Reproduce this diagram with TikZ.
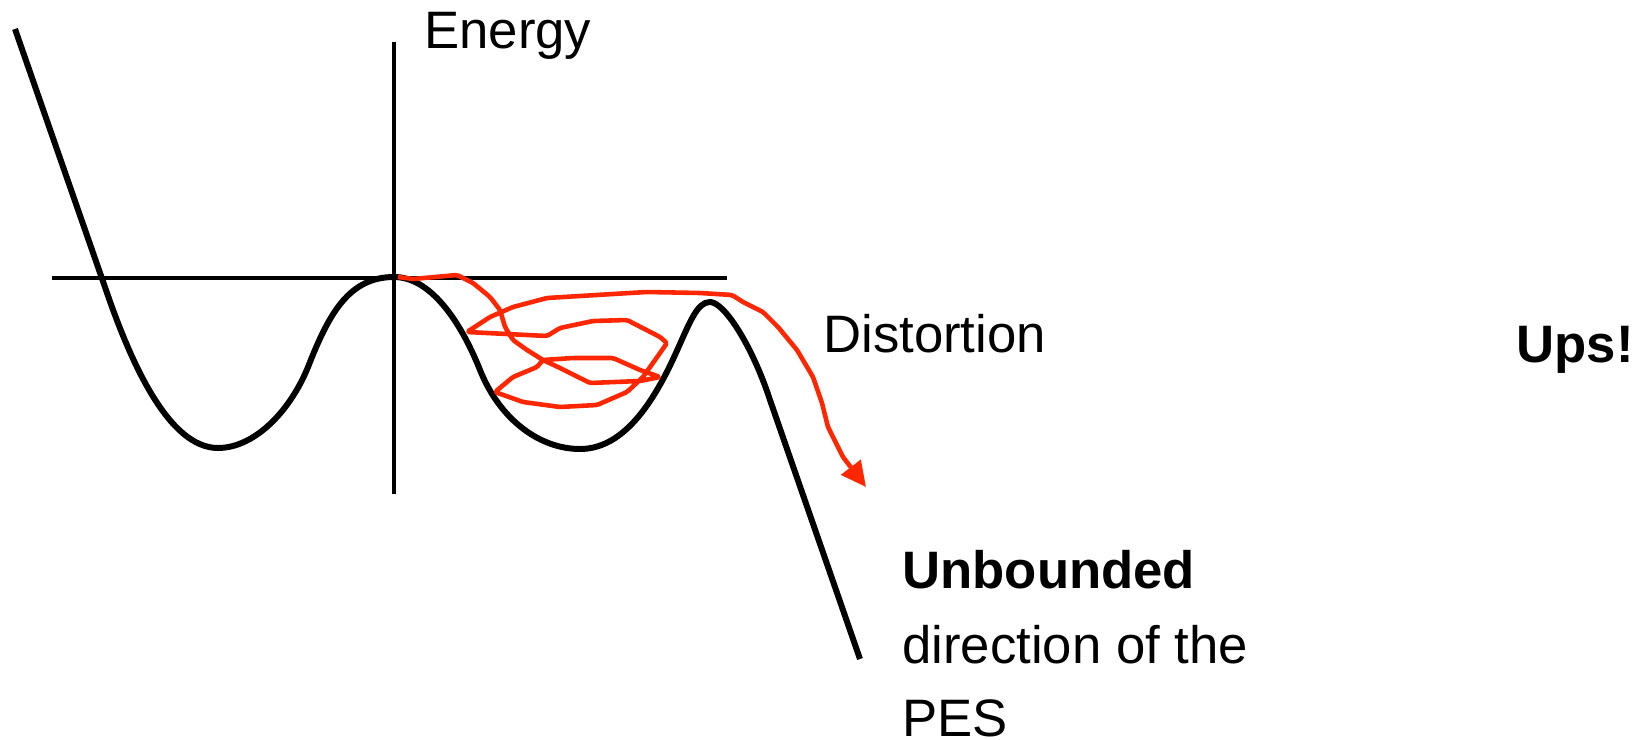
\documentclass[tikz,border=0pt]{standalone}
\usepackage{fontspec}
\setmainfont{Liberation Sans}
\usetikzlibrary{arrows.meta}
\definecolor{pathred}{RGB}{255,38,0}
\tikzset{
  axisline/.style={line width=2.2pt},
  pesline/.style={line width=3.4pt, line join=round},
  walk/.style={pathred, line width=2.6pt, line join=round, rounded corners=1pt},
  label/.style={font=\fontsize{30}{42.7}\selectfont, inner sep=0pt},
}
\begin{document}
\begin{tikzpicture}[x=0.02cm, y=-0.02cm]
  \useasboundingbox (0,0) rectangle (1640,740);

  % axes
  \draw[axisline] (52,278) -- (727,278);
  \draw[axisline] (394,42) -- (394,494);
  \node[label, anchor=base west] (energy) at (424,49) {Energy};
  \node[label, anchor=base west] (distortion) at (823,352) {Distortion};

  % potential energy surface
  \draw[pesline] (15,29) -- (106,290)
    .. controls (130,360) and (168,448) .. (218,448)
    .. controls (255,448) and (292,410) .. (310,362)
    .. controls (330,312) and (350,277) .. (394,277)
    .. controls (430,277) and (460,320) .. (480,370)
    .. controls (500,420) and (540,449) .. (580,449)
    .. controls (620,449) and (650,410) .. (675,355)
    .. controls (690,322) and (697,302) .. (710,302)
    .. controls (724,302) and (752,345) .. (770,400)
    -- (860,659);

  % trajectory
  \draw[walk, -{Triangle[length=0.5cm, width=0.48cm]}]
    (398,277) -- (413,279) -- (457,275) -- (473,283) -- (490,297)
    -- (500,310) -- (505,327) -- (513,340) -- (527,350) -- (543,360)
    -- (560,368) -- (580,378) -- (590,383) -- (640,381) -- (660,377)
    -- (640,370) -- (613,358) -- (573,358) -- (543,360) -- (537,367)
    -- (513,377) -- (495,392) -- (523,402) -- (560,407) -- (597,405)
    -- (627,392) -- (643,377) -- (660,353) -- (667,343) -- (660,337)
    -- (627,320) -- (593,321) -- (560,328) -- (547,336) -- (467,332)
    -- (490,317) -- (513,307) -- (547,298) -- (613,294) -- (647,292)
    -- (700,293) -- (732,295) -- (743,302) -- (763,312) -- (778,327)
    -- (797,350) -- (813,377) -- (822,403) -- (828,427) -- (843,457)
    -- (866,487);

  % labels
  \node[label, anchor=base west, font=\fontsize{30}{42.7}\selectfont\bfseries] (unbounded) at (902,588) {Unbounded};
  \node[label, anchor=base west] (direction) at (902,663) {direction of the};
  \node[label, anchor=base west] (pes) at (902,736) {PES};
  \node[label, anchor=base east, font=\fontsize{30}{42.7}\selectfont\bfseries] (ups) at (1634,362) {Ups!};
\end{tikzpicture}
\end{document}
